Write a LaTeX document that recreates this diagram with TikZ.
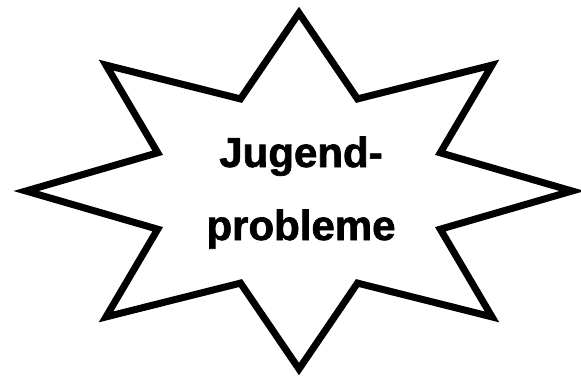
\documentclass[tikz,border=0pt]{standalone}
\usepackage{fontspec}
\setmainfont{Liberation Sans}
\newfontfamily\burstfont[FakeBold=1.6]{Liberation Sans Bold}
\usepackage{tikz}
\usetikzlibrary{positioning}
\tikzset{
  burst-outline/.style={draw=black, fill=white, line width=7pt, line join=miter},
  burst-label/.style={align=center, inner sep=0pt, text=black,
    font=\fontsize{42}{73}\selectfont\burstfont}
}

\begin{document}
\begin{tikzpicture}[x=1pt, y=-1pt]
  \useasboundingbox (0,0) rectangle (581,378);

  % Eight-pointed star
  \draw[burst-outline] (299,13) -- (357.5,98.9) -- (492,65.1) -- (440.3,152.8)
    -- (572,191) -- (440.3,229.2) -- (492,316.9) -- (357.5,283.1)
    -- (299,369) -- (240.5,283.1) -- (106,316.9) -- (157.7,229.2)
    -- (26,191) -- (157.7,152.8) -- (106,65.1) -- (240.5,98.9) -- cycle;

  % Label
  \node[burst-label, anchor=base] (title) at (301,240) {Jugend-\\probleme};
\end{tikzpicture}
\end{document}
